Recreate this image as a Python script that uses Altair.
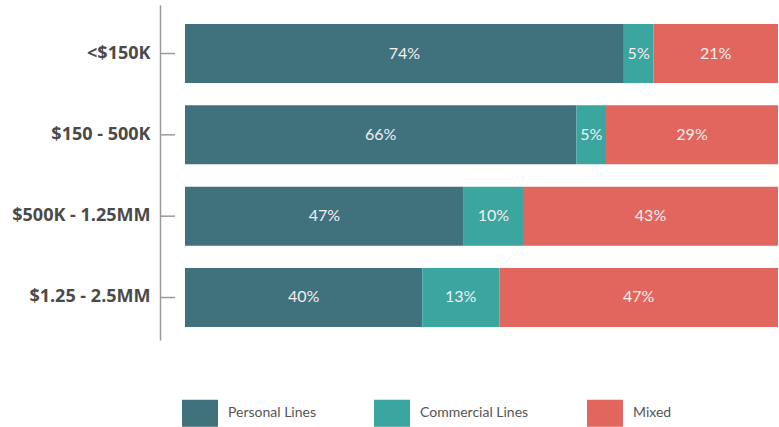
import altair as alt
import pandas as pd

categories = ["<$150K", "$150 - 500K", "$500K - 1.25MM", "$1.25 - 2.5MM"]
series = ["Personal Lines", "Commercial Lines", "Mixed"]
personal = [74, 66, 47, 40]
commercial = [5, 5, 10, 13]
mixed = [21, 29, 43, 47]
colors = ["#40727E", "#3BA5A0", "#E1665E"]

rows = []
for i, c in enumerate(categories):
    for j, (s, vals) in enumerate(zip(series, [personal, commercial, mixed])):
        rows.append({"category": c, "series": s, "value": vals[i], "order": j})
df = pd.DataFrame(rows)

FONT = "Lato"

yscale = alt.Scale(paddingInner=0.2746, paddingOuter=0.197, align=0.594)
xscale = alt.Scale(domain=[0, 100])

base = alt.Chart(df).transform_stack(
    stack="value", as_=["x0", "x1"], groupby=["category"],
    sort=[alt.SortField("order", order="ascending")]
).transform_calculate(
    mid="(datum.x0 + datum.x1) / 2",
    label="datum.value + '%'"
)

bars = base.mark_bar().encode(
    y=alt.Y("category:N", sort=categories, scale=yscale, title=None,
            axis=alt.Axis(offset=25, domain=True, domainColor="#9a9a9a", domainWidth=1.5,
                          ticks=False, tickSize=0, labelPadding=10, labelFontSize=18,
                          labelFontWeight="bold", labelColor="#4a4a4a", labelFont="Open Sans")),
    x=alt.X("x0:Q", scale=xscale, axis=None),
    x2="x1:Q",
    color=alt.Color("series:N", sort=series,
                    scale=alt.Scale(domain=series, range=colors),
                    legend=alt.Legend(title=None, orient="none", direction="horizontal",
                                      legendX=-3, legendY=390,
                                      symbolType="M-1,-0.75H1V0.75H-1Z", symbolSize=1296,
                                      symbolStrokeWidth=0, symbolOpacity=1,
                                      labelFontSize=14, labelFont=FONT, labelColor="#555555",
                                      labelOffset=10, columnPadding=58)),
)

text = base.mark_text(color="#f4eeee", fontSize=16, font=FONT).encode(
    y=alt.Y("category:N", sort=categories, scale=yscale),
    x=alt.X("mid:Q", scale=xscale),
    text="label:N",
)

ticks = alt.Chart(pd.DataFrame({"category": categories})).mark_rule(
    color="#9a9a9a", strokeWidth=1.5
).encode(
    y=alt.Y("category:N", sort=categories, scale=yscale),
    x=alt.value(-25), x2=alt.value(-10),
)

chart = alt.layer(bars, text, ticks).properties(
    width=593, height=335,
    autosize=alt.AutoSizeParams(type="none"),
    padding={"left": 185, "top": 5, "right": 1, "bottom": 87},
).configure(background="white").configure_view(strokeWidth=0, stroke="transparent")

chart.save("out.html", embed_options={"renderer": "svg", "actions": False})
